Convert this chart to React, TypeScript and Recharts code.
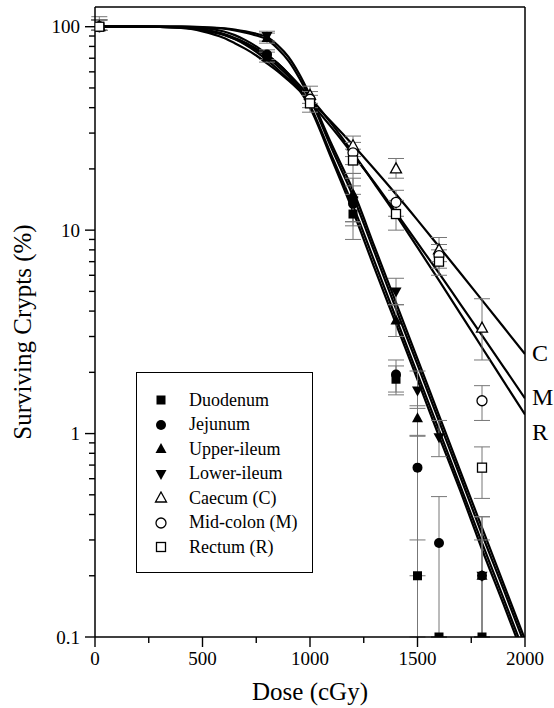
import React from "react"
import { ComposedChart, Line, Scatter, ErrorBar, XAxis, YAxis, ReferenceLine, ReferenceDot, Legend } from "recharts"

const FONT = "Liberation Serif, Tinos, Times New Roman, Times, DejaVu Serif, serif"

// fitted survival curves
const curveDose = [0, 200, 400, 500, 600, 650, 700, 750, 800, 850, 900, 950, 1000, 1100, 1200, 1300, 1400, 1500, 1600, 1700, 1800, 1900, 2000]
const fitDuodenum = [100, 100, 99.2, 96, 91, 87, 82.5, 77, 71, 64, 57, 49, 40, 22.5, 12.4, 6.5, 3.46, 1.84, 0.97, 0.52, 0.27, 0.145, 0.077]
const fitJejunum = [100, 100, 99.3, 96.5, 92, 88, 83.5, 78, 72.5, 66, 58.5, 50.5, 41, 23.3, 13.2, 7.0, 3.7, 1.96, 1.04, 0.55, 0.29, 0.155, 0.082]
const fitUpperIleum = [100, 100, 100, 99.3, 97.8, 96, 93.5, 90.5, 86.5, 78, 68, 56, 44.5, 25.3, 14.7, 7.8, 4.1, 2.18, 1.15, 0.61, 0.32, 0.172, 0.091]
const fitLowerIleum = [100, 100, 100, 99.5, 98.3, 96.8, 94.8, 92.3, 89, 81, 71, 58.5, 46, 26.5, 15.7, 8.3, 4.4, 2.33, 1.23, 0.65, 0.345, 0.183, 0.097]
const fitCaecum = [100, 100, 98.6, 94.9, 88, 83, 77.8, 72.2, 66, 60.3, 54.4, 48.8, 43.5, 34, 26.2, 19.9, 15, 11.2, 8.3, 6.14, 4.53, 3.34, 2.46]
const fitMidColon = [100, 100, 99.6, 97.3, 91.4, 86.9, 81.4, 75.2, 68.5, 61.8, 55.1, 48.7, 42.6, 32, 23.5, 17.1, 12.2, 8.66, 6.14, 4.32, 3.04, 2.13, 1.49]
const fitRectum = [100, 100, 99.9, 98.8, 94.7, 90.9, 85.9, 80, 73.2, 66, 58.7, 51.7, 45, 33.4, 24, 16.9, 11.9, 8.22, 5.66, 3.88, 2.65, 1.81, 1.24]

// measured points (value, lower / upper error)
const duodenumDose = [20, 800, 1200, 1400, 1500, 1600, 1800]
const duodenumVal = [100, 71, 12, 1.85, 0.2, 0.1, 0.1]
const duodenumLo = [4, 4, 3, 0.3, 0.1, 0, 0]
const duodenumHi = [12, 4, 3, 0.3, 0.1, 0, 0]

const jejunumDose = [20, 800, 1200, 1400, 1500, 1600, 1800]
const jejunumVal = [100, 73, 13.5, 1.95, 0.68, 0.29, 0.2]
const jejunumLo = [4, 4, 3, 0.35, 0.48, 0.19, 0.1]
const jejunumHi = [8, 4, 3, 0.35, 0.3, 0.2, 0.19]

const upperIleumDose = [20, 800, 1200, 1400, 1500, 1800]
const upperIleumVal = [100, 88, 15, 3.6, 1.19, 0.2]
const upperIleumLo = [4, 5, 4, 0.6, 0.22, 0.1]
const upperIleumHi = [8, 5, 4, 0.7, 0.18, 0.1]

const lowerIleumDose = [20, 800, 1200, 1400, 1500, 1600, 1800]
const lowerIleumVal = [100, 90, 14, 5, 1.63, 0.96, 0.2]
const lowerIleumLo = [4, 5, 3, 0.7, 0.3, 0.19, 0.1]
const lowerIleumHi = [8, 5, 4, 0.8, 0.4, 0.2, 0.19]

const caecumDose = [20, 1000, 1200, 1400, 1600, 1800]
const caecumVal = [100, 46, 26, 20, 8, 3.3]
const caecumLo = [4, 4, 3, 2, 1, 1]
const caecumHi = [8, 5, 3, 2.5, 1.2, 1.3]

const midColonDose = [20, 1000, 1200, 1400, 1600, 1800]
const midColonVal = [100, 44, 24, 13.7, 7.5, 1.45]
const midColonLo = [4, 4, 3, 2, 1, 0.29]
const midColonHi = [8, 4, 3, 2, 1, 0.27]

const rectumDose = [20, 1000, 1200, 1400, 1600, 1800]
const rectumVal = [100, 42, 22, 12, 7, 0.68]
const rectumLo = [4, 4, 3, 2, 1, 0.2]
const rectumHi = [8, 4, 3, 2, 1, 0.18]

const names = ["Duodenum", "Jejunum", "Upper-ileum", "Lower-ileum", "Caecum (C)", "Mid-colon (M)", "Rectum (R)"]
const markers = ["square", "circle", "up", "down", "up", "circle", "square"]
const hollow = [false, false, false, false, true, true, true]

const endLabels = ["C", "M", "R"]
const endLabelY = [2.5, 1.52, 1.02]

const xTicks = [0, 250, 500, 750, 1000, 1250, 1500, 1750, 2000]
const yMajor = [0.1, 1, 10, 100]
const yMajorLabels = ["0.1", "1", "10", "100"]
const yMinor = [0.2, 0.3, 0.4, 0.5, 0.6, 0.7, 0.8, 0.9, 2, 3, 4, 5, 6, 7, 8, 9, 20, 30, 40, 50, 60, 70, 80, 90]

const pts = (d: number[], v: number[], lo: number[], hi: number[]) =>
  d.map((x, i) => ({ dose: x, value: v[i], err: [lo[i], hi[i]] }))
const curve = (v: number[]) => curveDose.map((d, i) => ({ dose: d, value: v[i] }))

const series = [
  pts(duodenumDose, duodenumVal, duodenumLo, duodenumHi),
  pts(jejunumDose, jejunumVal, jejunumLo, jejunumHi),
  pts(upperIleumDose, upperIleumVal, upperIleumLo, upperIleumHi),
  pts(lowerIleumDose, lowerIleumVal, lowerIleumLo, lowerIleumHi),
  pts(caecumDose, caecumVal, caecumLo, caecumHi),
  pts(midColonDose, midColonVal, midColonLo, midColonHi),
  pts(rectumDose, rectumVal, rectumLo, rectumHi),
]
const fits = [fitDuodenum, fitJejunum, fitUpperIleum, fitLowerIleum, fitCaecum, fitMidColon, fitRectum]

function Marker({ kind, open, cx, cy }: { kind: string; open: boolean; cx: number; cy: number }) {
  const fill = open ? "#fff" : "#000"
  const sw = open ? 1.3 : 0
  if (kind === "square") return <rect x={cx - 4.5} y={cy - 4.5} width={9} height={9} fill={fill} stroke="#000" strokeWidth={sw} />
  if (kind === "circle") return <circle cx={cx} cy={cy} r={5} fill={fill} stroke="#000" strokeWidth={sw} />
  if (kind === "up")
    return <polygon points={`${cx},${cy - 6} ${cx + 5.5},${cy + 4} ${cx - 5.5},${cy + 4}`} fill={fill} stroke="#000" strokeWidth={sw} />
  return <polygon points={`${cx},${cy + 6} ${cx + 5.5},${cy - 4} ${cx - 5.5},${cy - 4}`} fill={fill} stroke="#000" strokeWidth={sw} />
}

function YTick(props: any) {
  const { x, y, payload } = props
  const i = yMajor.indexOf(payload.value)
  const ax = x + 15
  return (
    <g>
      <line x1={ax - (i >= 0 ? 10 : 6)} y1={y} x2={ax} y2={y} stroke="#000" strokeWidth={1.4} />
      {i >= 0 && (
        <text x={x} y={y} dy="0.35em" textAnchor="end" fontSize={19} fontFamily={FONT} fill="#000">
          {yMajorLabels[i]}
        </text>
      )}
    </g>
  )
}

function XTick(props: any) {
  const { x, y, payload } = props
  const major = payload.value % 500 === 0
  const ay = y - 15
  return (
    <g>
      <line x1={x} y1={ay} x2={x} y2={ay + (major ? 10 : 6)} stroke="#000" strokeWidth={1.4} />
      {major && (
        <text x={x} y={y} dy="0.71em" textAnchor="middle" fontSize={19} fontFamily={FONT} fill="#000">
          {payload.value}
        </text>
      )}
    </g>
  )
}

function YTitle(props: any) {
  const vb = props.viewBox || { x: 0, y: 7, width: 95, height: 630 }
  const cx = vb.x + 22
  const cy = vb.y + vb.height / 2 + 10
  return (
    <text x={cx} y={cy} transform={`rotate(-90 ${cx} ${cy})`} textAnchor="middle" dominantBaseline="central" fontSize={25} fontFamily={FONT} fill="#000">
      Surviving Crypts (%)
    </text>
  )
}

function LegendBox() {
  return (
    <div
      style={{
        boxSizing: "border-box",
        width: 177,
        height: 201,
        border: "1.5px solid #000",
        paddingTop: 15,
        fontFamily: FONT,
        fontSize: 18,
        color: "#000",
        background: "#fff",
      }}
    >
      {names.map((n, i) => (
        <div key={n} style={{ display: "flex", alignItems: "center", height: 24.5 }}>
          <svg width={14} height={14} style={{ marginLeft: 17, flex: "none" }}>
            <Marker kind={markers[i]} open={hollow[i]} cx={7} cy={7} />
          </svg>
          <span style={{ marginLeft: 21, whiteSpace: "nowrap" }}>{n}</span>
        </div>
      ))}
    </div>
  )
}

export default function App() {
  return (
    <div style={{ position: "absolute", left: 0, top: 0, width: 554, height: 708, background: "#fff", fontFamily: FONT }}>
      <ComposedChart width={554} height={708} margin={{ top: 7, right: 29, bottom: 0, left: 0 }} style={{ fontFamily: FONT }}>
        <XAxis
          type="number"
          dataKey="dose"
          domain={[0, 2000]}
          ticks={xTicks}
          interval={0}
          allowDataOverflow
          height={71}
          tickSize={10}
          tickMargin={5}
          tickLine={false}
          tick={<XTick />}
          axisLine={{ stroke: "#000", strokeWidth: 1.5 }}
          label={{ value: "Dose (cGy)", position: "insideBottom", offset: 8, fontSize: 25, fontFamily: FONT, fill: "#000" }}
        />
        <YAxis
          type="number"
          dataKey="value"
          scale="log"
          domain={[0.1, 125]}
          ticks={[...yMajor, ...yMinor]}
          interval={0}
          allowDataOverflow
          width={95}
          tickSize={10}
          tickMargin={5}
          tickLine={false}
          tick={<YTick />}
          axisLine={{ stroke: "#000", strokeWidth: 1.5 }}
          label={<YTitle />}
        />
        <ReferenceLine y={125} stroke="#000" strokeWidth={1.5} />
        <ReferenceLine x={2000} stroke="#000" strokeWidth={1.5} />
        {fits.map((f, i) => (
          <Line
            key={"fit" + i}
            data={curve(f)}
            dataKey="value"
            type="monotone"
            stroke="#000"
            strokeWidth={2.2}
            dot={false}
            activeDot={false}
            isAnimationActive={false}
          />
        ))}
        {series.map((s, i) => (
          <Scatter
            key={names[i]}
            name={names[i]}
            data={s}
            dataKey="value"
            isAnimationActive={false}
            shape={(p: any) => <Marker kind={markers[i]} open={hollow[i]} cx={p.cx} cy={p.cy} />}
          >
            <ErrorBar dataKey="err" direction="y" width={8} stroke="#777" strokeWidth={1} isAnimationActive={false} />
          </Scatter>
        ))}
        {endLabels.map((t, i) => (
          <ReferenceDot
            key={t}
            x={2000}
            y={endLabelY[i]}
            r={0}
            stroke="none"
            fill="none"
            label={{ value: t, position: "right", offset: 7, fontSize: 24, fontFamily: FONT, fill: "#000" }}
          />
        ))}
        <Legend
          layout="vertical"
          align="center"
          verticalAlign="middle"
          content={<LegendBox />}
          wrapperStyle={{ position: "absolute", left: 136, top: 372, width: 177, height: 201, margin: 0, padding: 0 }}
        />
      </ComposedChart>
    </div>
  )
}
